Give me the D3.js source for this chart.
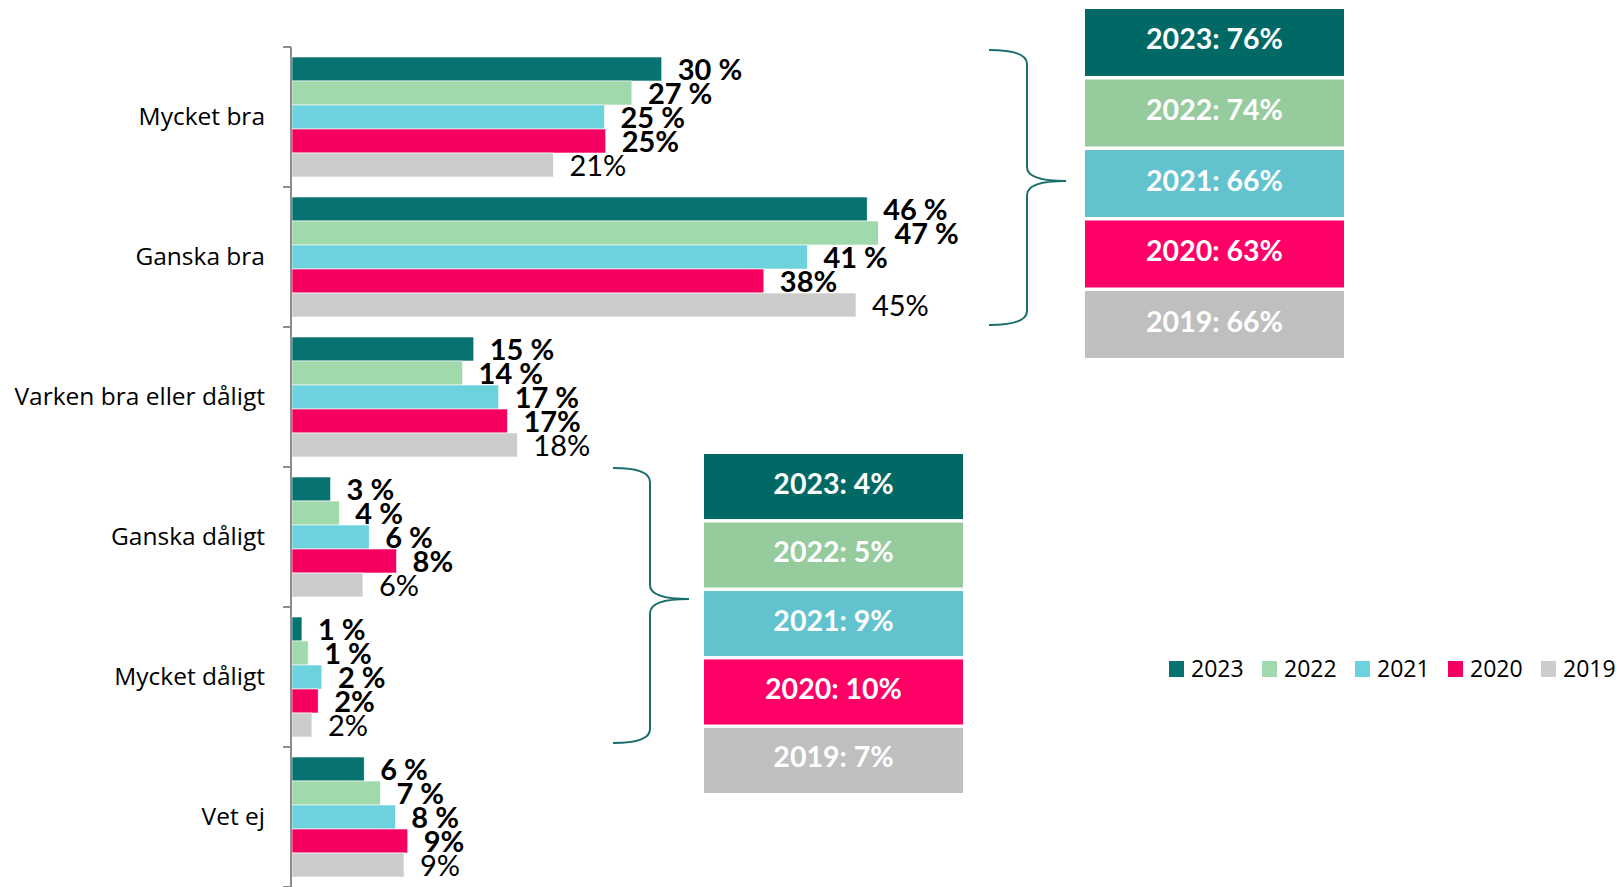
<!DOCTYPE html>
<html>
<head>
<meta charset="utf-8">
<script src="https://cdn.jsdelivr.net/npm/d3@7"></script>
<style>
  body { margin: 0; background: #fff; }
</style>
</head>
<body>
<div id="chart"></div>
<script>
// data
const categories = ["Mycket bra", "Ganska bra", "Varken bra eller dåligt", "Ganska dåligt", "Mycket dåligt", "Vet ej"];
const years = ["2023", "2022", "2021", "2020", "2019"];
const values2023 = [29.7, 46.2, 14.6, 3.1, 0.8, 5.8];
const values2022 = [27.3, 47.1, 13.7, 3.8, 1.3, 7.1];
const values2021 = [25.1, 41.4, 16.6, 6.2, 2.4, 8.3];
const values2020 = [25.2, 37.9, 17.3, 8.4, 2.1, 9.3];
const values2019 = [21.0, 45.3, 18.1, 5.7, 1.6, 9.0];
const goodTotals = [76, 74, 66, 63, 66];   // Mycket + Ganska bra
const badTotals = [4, 5, 9, 10, 7];        // Ganska + Mycket dåligt

const barColors = ["#077370", "#a0d9ab", "#6bd2de", "#f50060", "#cccccc"];
const boxColors = ["#006966", "#96cb9e", "#62c3cf", "#ff0066", "#bfbfbf"];

const series = [values2023, values2022, values2021, values2020, values2019];

const width = 1616, height = 887;

const svg = d3.select("#chart")
  .append("svg")
  .attr("width", width)
  .attr("height", height);

// scales
const x = d3.scaleLinear().domain([0, 50]).range([292, 292 + 50 * 12.45]);
const y = d3.scaleBand().domain(categories).range([47, 887]);
const ySub = d3.scaleBand().domain(years).range([10, y.bandwidth() - 10]);
const color = d3.scaleOrdinal().domain(years).range(barColors);

// bars
const groups = svg.selectAll("g.cat")
  .data(categories)
  .join("g")
  .attr("class", "cat")
  .attr("transform", d => `translate(0,${y(d)})`);

groups.each(function(cat, ci) {
  const g = d3.select(this);
  const rows = years.map((yr, si) => ({ year: yr, value: series[si][ci], si: si }));

  g.selectAll("rect")
    .data(rows)
    .join("rect")
    .attr("x", x(0))
    .attr("y", d => ySub(d.year))
    .attr("width", d => x(d.value) - x(0))
    .attr("height", ySub.bandwidth())
    .attr("fill", d => color(d.year))
    .attr("stroke", "#fff")
    .attr("stroke-width", 0.6);

  g.selectAll("text.val")
    .data(rows)
    .join("text")
    .attr("class", "val")
    .attr("x", d => x(d.value) + 16)
    .attr("y", d => ySub(d.year) + ySub.bandwidth() / 2 + 11)
    .attr("font-family", "Lato, sans-serif")
    .attr("font-size", 29)
    .attr("font-weight", d => d.year === "2019" ? 400 : 700)
    .attr("fill", "#000")
    .text(d => {
      const v = Math.round(d.value);
      return d.si < 3 ? v + " %" : v + "%";
    });
});

// axis line and ticks at category boundaries
svg.append("line")
  .attr("x1", 291).attr("x2", 291)
  .attr("y1", y.range()[0]).attr("y2", y.range()[1])
  .attr("stroke", "#8c8c8c").attr("stroke-width", 2);

const tickYs = categories.map(c => y(c)).concat([y.range()[1]]);
svg.selectAll("line.tick")
  .data(tickYs)
  .join("line")
  .attr("class", "tick")
  .attr("x1", 283).attr("x2", 291)
  .attr("y1", d => d).attr("y2", d => d)
  .attr("stroke", "#8c8c8c").attr("stroke-width", 2);

// category labels
svg.selectAll("text.cat")
  .data(categories)
  .join("text")
  .attr("class", "cat")
  .attr("x", 265)
  .attr("y", d => y(d) + y.bandwidth() / 2 + 8)
  .attr("text-anchor", "end")
  .attr("font-family", "'Open Sans', sans-serif")
  .attr("font-size", 24.5)
  .attr("fill", "#000")
  .text(d => d);

// curly braces
function brace(x0, xv, xp, y0, ym, y1) {
  const r = 14;
  return `M${x0},${y0} Q${xv},${y0} ${xv},${y0 + r} L${xv},${ym - r} Q${xv},${ym} ${xp},${ym}` +
         ` M${xp},${ym} Q${xv},${ym} ${xv},${ym + r} L${xv},${y1 - r} Q${xv},${y1} ${x0},${y1}`;
}
svg.append("path")
  .attr("d", brace(989, 1027, 1066, 50, 181, 325))
  .attr("fill", "none").attr("stroke", "#1a6e6b").attr("stroke-width", 2);
svg.append("path")
  .attr("d", brace(613, 650, 689, 468, 599, 743))
  .attr("fill", "none").attr("stroke", "#1a6e6b").attr("stroke-width", 2);

// summary boxes
function summary(totals, x0, x1, y0, y1) {
  const yb = d3.scaleBand().domain(years).range([y0, y1]).paddingInner(0.05);
  const g = svg.append("g");
  g.selectAll("rect")
    .data(years)
    .join("rect")
    .attr("x", x0)
    .attr("y", d => yb(d))
    .attr("width", x1 - x0)
    .attr("height", yb.bandwidth())
    .attr("fill", (d, i) => boxColors[i]);
  g.selectAll("text")
    .data(years)
    .join("text")
    .attr("x", (x0 + x1) / 2)
    .attr("y", d => yb(d) + yb.bandwidth() / 2 + 7)
    .attr("text-anchor", "middle")
    .attr("font-family", "Lato, sans-serif")
    .attr("font-size", 28.5)
    .attr("font-weight", 700)
    .attr("fill", "#fff")
    .text((d, i) => `${d}: ${totals[i]}%`);
}
summary(goodTotals, 1085, 1344, 9, 358);
summary(badTotals, 704, 963, 454, 793);

// legend
const legend = svg.selectAll("g.legend")
  .data(years)
  .join("g")
  .attr("class", "legend")
  .attr("transform", (d, i) => `translate(${1169 + i * 93},661)`);
legend.append("rect")
  .attr("width", 15).attr("height", 16)
  .attr("fill", d => color(d));
legend.append("text")
  .attr("x", 22).attr("y", 16)
  .attr("font-family", "'Open Sans', sans-serif")
  .attr("font-size", 23)
  .attr("fill", "#000")
  .text(d => d);
</script>
</body>
</html>
